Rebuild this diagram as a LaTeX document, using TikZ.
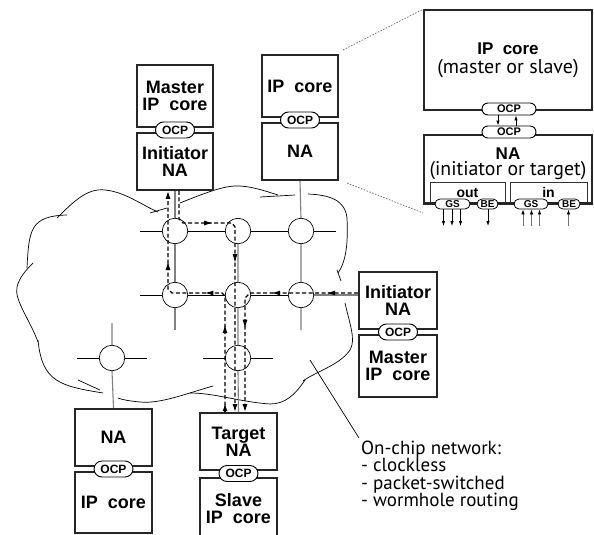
\documentclass[tikz,border=0pt]{standalone}
\usepackage{fontspec}
\setmainfont{Liberation Sans}
\newfontfamily\myr{PT Sans}
\usetikzlibrary{arrows.meta,shapes.misc,decorations.markings}
\begin{document}
\begin{tikzpicture}[x=1pt,y=-1pt,
  box/.style={draw=black!85, line width=1.6pt, inner sep=0pt, align=center, font=\bfseries\fontsize{18}{17}\selectfont},
  pill/.style={draw=black, line width=0.9pt, fill=white, rounded rectangle, inner sep=0pt, minimum width=39pt, minimum height=16pt, font=\bfseries\fontsize{12}{12}\selectfont},
  spill/.style={draw=black, line width=0.8pt, fill=white, rounded rectangle, inner sep=0pt, minimum height=10pt, font=\bfseries\fontsize{10}{10}\selectfont},
  router/.style={circle, draw=black, line width=0.7pt, fill=white, minimum size=25.5pt, inner sep=0pt},
  link/.style={draw=black, line width=0.7pt},
  glink/.style={draw=black!50, line width=1.1pt},
  route/.style={draw=black, line width=1.3pt, dash pattern=on 4pt off 2.5pt},
  endtip/.style={-{Latex[length=8pt,width=5pt]}},
  cloudline/.style={draw=black, line width=0.7pt},
  dotline/.style={draw=black!60, line width=0.7pt, dash pattern=on 1.5pt off 1.5pt},
  sarr/.style={draw=black, line width=0.8pt, -{Latex[length=5pt,width=3.5pt]}},
  garr/.style={draw=black!55, line width=0.8pt, -{Latex[length=5pt,width=3.5pt,color=black]}},
  txt/.style={inner sep=0pt, anchor=base},
  notetxt/.style={inner sep=0pt, anchor=base west, font=\myr\fontsize{19}{19}\selectfont}
]
\useasboundingbox (0,0) rectangle (594,535);
\clip (0,0) rectangle (594,535);

% ---------- cloud ----------
\draw[cloudline] (27,268) .. controls (29,230) and (30,216) .. (67,215);
\draw[cloudline] (57,218) .. controls (75,200) and (88,188) .. (105,190) .. controls (125,192) and (140,204) .. (158,212);
\draw[cloudline] (150,213) -- (167,208);
\draw[cloudline] (180,203) .. controls (205,193) and (225,185) .. (240,186) .. controls (255,187) and (268,192) .. (278,195);
\draw[cloudline] (260,197) -- (295,195);
\draw[cloudline] (308,194) .. controls (330,195) and (345,200) .. (347,218) .. controls (348,240) and (347,260) .. (338,273);
\draw[cloudline] (337,270) -- (341,281);
\draw[cloudline] (345,303) .. controls (350,325) and (356,340) .. (350,350) .. controls (340,365) and (315,372) .. (303,381);
\draw[cloudline] (305,380) .. controls (295,395) and (285,404) .. (270,404) .. controls (240,402) and (215,393) .. (190,393);
\draw[cloudline] (213,386) .. controls (185,394) and (160,404) .. (140,402) .. controls (130,401) and (123,400) .. (118,398);
\draw[cloudline] (78,380) -- (100,390);
\draw[cloudline] (103,393) .. controls (60,386) and (42,382) .. (38,340);
\draw[cloudline] (38,342) .. controls (30,320) and (14,300) .. (17,287) .. controls (19,278) and (26,270) .. (33,263);

% ---------- boxes ----------
\node[box, minimum width=76pt, minimum height=62pt] (mip) at (175,96) {Master\\IP\ \ core};
\node[box, minimum width=76pt, minimum height=57pt] (ina) at (175,161.5) {Initiator\\NA};
\node[box, minimum width=76pt, minimum height=62pt] (ipc) at (300,86) {IP\ \ core};
\node[box, minimum width=76pt, minimum height=57pt] (na1) at (300,151.5) {NA};
\node[box, minimum width=78pt, minimum height=57pt] (ina2) at (398,300.5) {Initiator\\NA};
\node[box, minimum width=78pt, minimum height=62pt] (mip2) at (398,366) {Master\\IP\ \ core};
\node[box, minimum width=77pt, minimum height=57pt] (na2) at (113.5,437.5) {NA};
\node[box, minimum width=77pt, minimum height=61pt] (ipc2) at (113.5,502.5) {IP\ \ core};
\node[box, minimum width=77pt, minimum height=57pt] (tna) at (238.5,441.5) {Target\\NA};
\node[box, minimum width=77pt, minimum height=62pt] (sip) at (238.5,509) {Slave\\IP\ \ core};

\node[pill] (p1) at (175,130) {OCP};
\node[pill] (p2) at (300,120) {OCP};
\node[pill] (p3) at (398,332) {OCP};
\node[pill] (p4) at (113.5,469) {OCP};
\node[pill] (p5) at (238.5,473.5) {OCP};

% ---------- routers ----------
\node[router] (r1) at (175,231) {};
\node[router] (r2) at (238,231) {};
\node[router] (r3) at (301,231) {};
\node[router] (r4) at (175,295) {};
\node[router] (r5) at (238,295) {};
\node[router] (r6) at (301,295) {};
\node[router] (r7) at (112,358) {};
\node[router] (r8) at (238,358) {};

\coordinate (s1w) at (140,231);
\coordinate (s1e) at (336,231);
\coordinate (s2w) at (140,295);
\coordinate (s4s) at (175,330);
\coordinate (s6s) at (301,330);
\coordinate (s7n) at (112,323);
\coordinate (s7w) at (77,358);
\coordinate (s7e) at (147,358);
\coordinate (s8w) at (203,358);
\coordinate (s8e) at (273,358);

\draw[link] (s1w) -- (r1.west) (r1.east) -- (r2.west) (r2.east) -- (r3.west) (r3.east) -- (s1e);
\draw[link] (s2w) -- (r4.west) (r4.east) -- (r5.west) (r5.east) -- (r6.west);
\draw[glink] (r6.east) -- (ina2.west |- r6.east);
\draw[link] (s7w) -- (r7.west) (r7.east) -- (s7e) (s8w) -- (r8.west) (r8.east) -- (s8e);
\draw[glink] (ina.south) -- (r1.north) (r1.south) -- (r4.north) (r4.south) -- (s4s);
\draw[glink] (na1.south) -- (r3.north) (r3.south) -- (r6.north) (r6.south) -- (s6s);
\draw[glink] (r2.south) -- (r5.north) (r5.south) -- (r8.north) (r8.south) -- (tna.north);
\draw[glink] (s7n) -- (r7.north) (r7.south) -- (na2.north);

% ---------- routes ----------
\coordinate (a1) at (225,296);
\coordinate (a2) at (222,293);
\coordinate (a3) at (172,293);
\coordinate (a4) at (168,289);
\coordinate (c225) at (225,0);
\coordinate (c168) at (168,0);
\draw[route, endtip, postaction={decorate}, decoration={markings,
   mark=at position 88pt with {\arrow{Latex[length=9pt,width=5pt]}},
   mark=at position 138pt with {\arrow{Latex[length=9pt,width=5pt]}},
   mark=at position 204pt with {\arrow{Latex[length=9pt,width=5pt]}}}]
   (c225 |- tna.north) -- (a1) -- (a2) -- (a3) -- (a4) -- (c168 |- ina.south);
\draw[endtip, line width=1.3pt] (c225 |- tna.north) -- ++(0,-9);

\coordinate (b0) at (359,293);
\coordinate (b1) at (250,293);
\coordinate (b2) at (245,298);
\coordinate (c245) at (245,0);
\draw[route, endtip, postaction={decorate}, decoration={markings,
   mark=at position 32pt with {\arrow{Latex[length=9pt,width=5pt]}},
   mark=at position 87pt with {\arrow{Latex[length=9pt,width=5pt]}},
   mark=at position 146pt with {\arrow{Latex[length=9pt,width=5pt]}}}]
   (ina2.west |- b0) -- (b1) -- (b2) -- (c245 |- tna.north);

\coordinate (c179) at (179,0);
\coordinate (d1) at (179,219);
\coordinate (d2) at (183,223);
\coordinate (d3) at (232,223);
\coordinate (d4) at (235,227);
\coordinate (c235) at (235,0);
\draw[route, endtip, postaction={decorate}, decoration={markings,
   mark=at position 64pt with {\arrow{Latex[length=9pt,width=5pt]}},
   mark=at position 124pt with {\arrow{Latex[length=9pt,width=5pt]}}}]
   (c179 |- ina.south) -- (d1) -- (d2) -- (d3) -- (d4) -- (c235 |- tna.north);

% ---------- inset ----------
\node[box, minimum width=168pt, minimum height=100pt, font=\bfseries\fontsize{17}{19}\selectfont] (bip) at (508,60) {IP\ \ core\\{\myr\mdseries\fontsize{20}{19}\selectfont (master or slave)}};
\node[box, minimum width=168pt, minimum height=68pt] (bna) at (508,169) {};
\node[txt, font=\bfseries\fontsize{17}{17}\selectfont] (natx) at (508,159) {NA};
\node[txt, font=\myr\fontsize{19.8}{17}\selectfont] (natx2) at (508,175.5) {(initiator or target)};
\node[draw=black!80, line width=0.9pt, minimum width=75pt, minimum height=21pt, inner sep=0pt] (obox) at (467.5,192.5) {};
\node[draw=black!80, line width=0.9pt, minimum width=77pt, minimum height=21pt, inner sep=0pt] (ibox) at (548.5,192.5) {};
\node[txt, font=\bfseries\fontsize{14}{14}\selectfont] (otx) at (467.5,197) {out};
\node[txt, font=\bfseries\fontsize{14}{14}\selectfont] (itx) at (548.5,197) {in};
\draw[draw=black!85, line width=1.6pt] (bna.south west) -- (bna.south east);

\node[pill, minimum width=54pt, minimum height=12pt, font=\bfseries\fontsize{11}{11}\selectfont] (op1) at (509,109) {OCP};
\node[pill, minimum width=54pt, minimum height=12pt, font=\bfseries\fontsize{11}{11}\selectfont] (op2) at (509,132) {OCP};
\coordinate (q1) at (498,0);
\coordinate (q2) at (516,0);
\draw[sarr] (op1.south -| q1) -- (op2.north -| q1);
\draw[sarr] (op2.north -| q2) -- (op1.south -| q2);

\node[spill, minimum width=35pt] (gs1) at (452.5,204) {GS};
\node[spill, minimum width=21pt] (be1) at (487.5,204) {BE};
\node[spill, minimum width=34pt] (gs2) at (531,204) {GS};
\node[spill, minimum width=22pt] (be2) at (569,204) {BE};

\coordinate (o1) at (443.5,226);
\coordinate (o2) at (452,226);
\coordinate (o3) at (460.5,226);
\coordinate (o4) at (488,226);
\coordinate (i1) at (523,226);
\coordinate (i2) at (531.5,226);
\coordinate (i3) at (539.5,226);
\coordinate (i4) at (568.5,226);
\draw[sarr] (o1 |- gs1.south) -- (o1);
\draw[sarr] (o2 |- gs1.south) -- (o2);
\draw[sarr] (o3 |- gs1.south) -- (o3);
\draw[sarr] (o4 |- be1.south) -- (o4);
\draw[garr] (i1) -- (i1 |- gs2.south);
\draw[garr] (i2) -- (i2 |- gs2.south);
\draw[garr] (i3) -- (i3 |- gs2.south);
\draw[garr] (i4) -- (i4 |- be2.south);

% magnifier lines
\coordinate (m1) at (343,50);
\coordinate (m2) at (347,183);
\coordinate (m3) at (423,213);
\draw[dotline] (m1) -- (bip.north west);
\draw[dotline] (m2) -- (m3);

% ---------- note ----------
\node[notetxt] (onc) at (361,454) {On-chip network:};
\node[notetxt] (onc2) at (361,471.5) {- clockless};
\node[notetxt] (onc3) at (361,489) {- packet-switched};
\node[notetxt] (onc4) at (361,506.5) {- wormhole routing};
\coordinate (ptr) at (310,360);
\coordinate (ptr2) at (359,438);
\draw[link] (ptr) -- (ptr2);
\end{tikzpicture}
\end{document}
